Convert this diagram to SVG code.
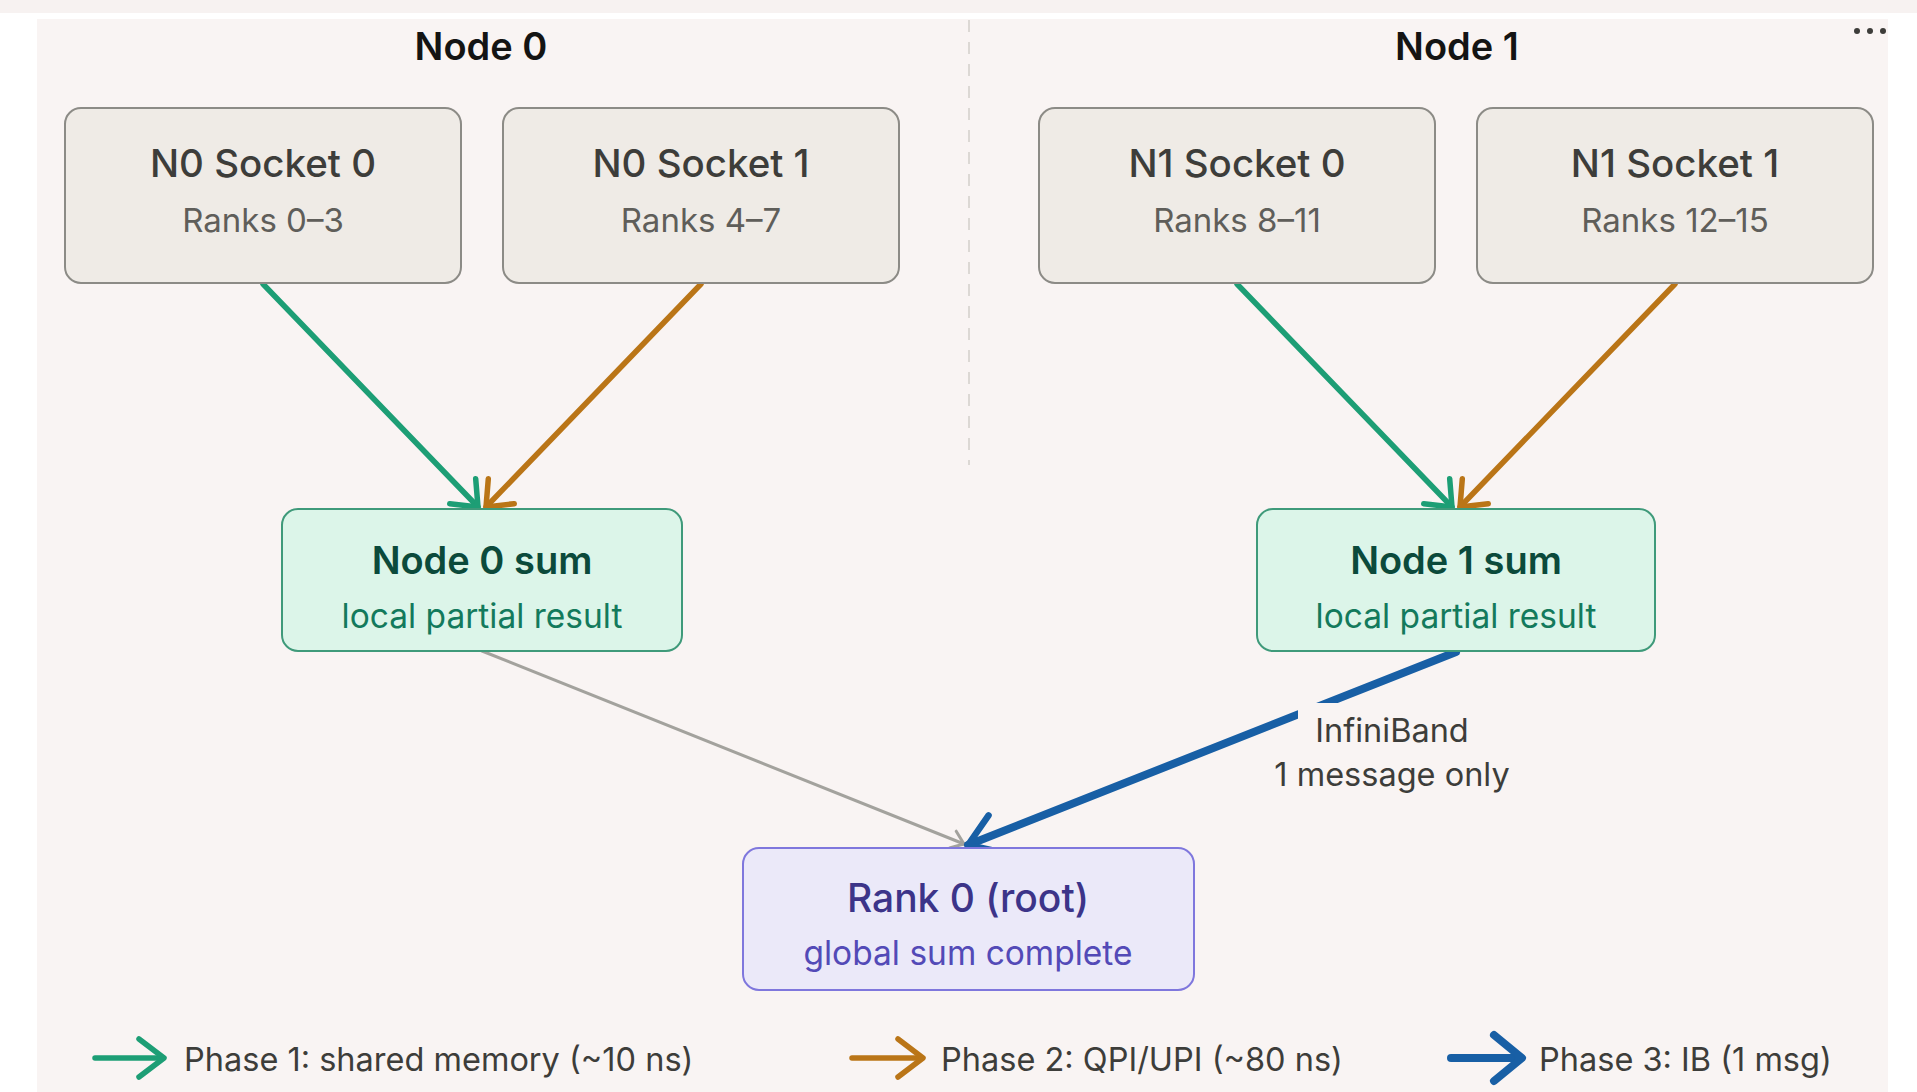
<svg xmlns="http://www.w3.org/2000/svg" width="1917" height="1092" viewBox="0 0 1917 1092">
  <style>
    text { font-family: Inter, "Noto Sans", "Liberation Sans", sans-serif; text-anchor: middle; }
    .group-title { font-size: 38px; font-weight: 600; fill: #141413; }
    .sock rect { fill: #efebe6; stroke: #8c8b86; stroke-width: 2; }
    .sock .t { font-size: 38.5px; font-weight: 500; fill: #3d3d3a; }
    .sock .s { font-size: 33px; font-weight: 400; fill: #5f5e5a; }
    .sum rect { fill: #dcf5e9; stroke: #3f9a7a; stroke-width: 2; }
    .sum .t { font-size: 38px; font-weight: 600; fill: #0b4a3b; }
    .sum .s { font-size: 33.5px; font-weight: 400; fill: #137a5c; }
    .root rect { fill: #ebe9f9; stroke: #7f77dd; stroke-width: 2; }
    .root .t { font-size: 39px; font-weight: 500; fill: #3c3489; }
    .root .s { font-size: 33.5px; font-weight: 400; fill: #534ab7; }
    .lbl { font-size: 32.5px; fill: #3d3d3a; }
    .legend text { font-size: 32.5px; fill: #3d3d3a; text-anchor: start; }
    .conn { fill: none; stroke-linecap: round; stroke-linejoin: round; }
    .green { stroke: #1d9e75; stroke-width: 5.5; }
    .orange { stroke: #ba7517; stroke-width: 5.5; }
    .blue { stroke: #185fa5; stroke-width: 8; }
    .grey { stroke: #a3a29d; stroke-width: 3; }
  </style>
  <defs>
    <marker id="ah-green" markerUnits="userSpaceOnUse" viewBox="-30 -22 34 44" refX="0" refY="0" markerWidth="34" markerHeight="44" orient="auto" overflow="visible">
      <path d="M-22,-18 L0,0 L-22,18" fill="none" stroke="#1d9e75" stroke-width="5.5" stroke-linecap="round" stroke-linejoin="round"/>
    </marker>
    <marker id="ah-orange" markerUnits="userSpaceOnUse" viewBox="-30 -22 34 44" refX="0" refY="0" markerWidth="34" markerHeight="44" orient="auto" overflow="visible">
      <path d="M-22,-18 L0,0 L-22,18" fill="none" stroke="#ba7517" stroke-width="5.5" stroke-linecap="round" stroke-linejoin="round"/>
    </marker>
    <marker id="ah-blue" markerUnits="userSpaceOnUse" viewBox="-36 -26 40 52" refX="0" refY="0" markerWidth="40" markerHeight="52" orient="auto" overflow="visible">
      <path d="M-30,-20 L0,0 L-30,20" fill="none" stroke="#185fa5" stroke-width="6.5" stroke-linecap="round" stroke-linejoin="round"/>
    </marker>
    <marker id="ah-grey" markerUnits="userSpaceOnUse" viewBox="-16 -12 20 24" refX="0" refY="0" markerWidth="20" markerHeight="24" orient="auto" overflow="visible">
      <path d="M-12,-9 L0,0 L-12,9" fill="none" stroke="#a3a29d" stroke-width="3" stroke-linecap="round" stroke-linejoin="round"/>
    </marker>
  </defs>

  <!-- page and canvas -->
  <rect x="0" y="0" width="1917" height="1092" fill="#ffffff"/>
  <rect x="0" y="0" width="1917" height="13" fill="#f7f2f1"/>
  <rect x="37" y="19" width="1851" height="1073" fill="#f9f4f3"/>
  <line x1="969" y1="20" x2="969" y2="465" stroke="#dcd8d4" stroke-width="2" stroke-dasharray="12 10"/>
  <g id="menu" fill="#3d3d3a">
    <circle cx="1857" cy="31" r="3"/>
    <circle cx="1870" cy="31" r="3"/>
    <circle cx="1883" cy="31" r="3"/>
  </g>

  <text class="group-title" x="481" y="60">Node 0</text>
  <text class="group-title" x="1457" y="60">Node 1</text>

  <!-- connectors -->
  <g id="connectors" class="conn">
    <line class="green" x1="263" y1="284" x2="478" y2="507" marker-end="url(#ah-green)"/>
    <line class="orange" x1="701" y1="284" x2="486" y2="507" marker-end="url(#ah-orange)"/>
    <line class="green" x1="1237" y1="284" x2="1452" y2="507" marker-end="url(#ah-green)"/>
    <line class="orange" x1="1675" y1="284" x2="1460" y2="507" marker-end="url(#ah-orange)"/>
    <line class="grey" x1="482" y1="651" x2="964" y2="844" marker-end="url(#ah-grey)"/>
    <line class="blue" x1="1456" y1="652" x2="968" y2="845" marker-end="url(#ah-blue)"/>
    <g id="ib-label">
      <rect x="1298" y="703" width="196" height="98" fill="#f9f4f3"/>
      <text class="lbl" x="1392" y="742">InfiniBand</text>
      <text class="lbl" x="1392" y="786">1 message only</text>
    </g>
  </g>

  <!-- socket nodes -->
  <g id="n0s0" class="sock">
    <rect x="65" y="108" width="396" height="175" rx="16"/>
    <text class="t" x="263" y="177">N0 Socket 0</text>
    <text class="s" x="263" y="232">Ranks 0–3</text>
  </g>
  <g id="n0s1" class="sock">
    <rect x="503" y="108" width="396" height="175" rx="16"/>
    <text class="t" x="701" y="177">N0 Socket 1</text>
    <text class="s" x="701" y="232">Ranks 4–7</text>
  </g>
  <g id="n1s0" class="sock">
    <rect x="1039" y="108" width="396" height="175" rx="16"/>
    <text class="t" x="1237" y="177">N1 Socket 0</text>
    <text class="s" x="1237" y="232">Ranks 8–11</text>
  </g>
  <g id="n1s1" class="sock">
    <rect x="1477" y="108" width="396" height="175" rx="16"/>
    <text class="t" x="1675" y="177">N1 Socket 1</text>
    <text class="s" x="1675" y="232">Ranks 12–15</text>
  </g>

  <!-- node partial sums -->
  <g id="node0sum" class="sum">
    <rect x="282" y="509" width="400" height="142" rx="16"/>
    <text class="t" x="482" y="574">Node 0 sum</text>
    <text class="s" x="482" y="628">local partial result</text>
  </g>
  <g id="node1sum" class="sum">
    <rect x="1257" y="509" width="398" height="142" rx="16"/>
    <text class="t" x="1456" y="574">Node 1 sum</text>
    <text class="s" x="1456" y="628">local partial result</text>
  </g>

  <!-- root -->
  <g id="rank0" class="root">
    <rect x="743" y="848" width="451" height="142" rx="16"/>
    <text class="t" x="968" y="912">Rank 0 (root)</text>
    <text class="s" x="968" y="965">global sum complete</text>
  </g>

  <!-- legend -->
  <g id="legend" class="legend">
    <g class="conn">
      <line class="green" x1="95" y1="1058" x2="163" y2="1058" stroke-width="6"/>
      <path class="green" d="M139,1039 L164,1058 L139,1077" stroke-width="6"/>
      <line class="orange" x1="852" y1="1058" x2="922" y2="1058" stroke-width="6"/>
      <path class="orange" d="M898,1039 L923,1058 L898,1077" stroke-width="6"/>
      <line class="blue" x1="1451" y1="1058" x2="1520" y2="1058" stroke-width="9"/>
      <path class="blue" d="M1494,1035 L1522,1058 L1494,1081" stroke-width="8"/>
    </g>
    <text x="184" y="1071">Phase 1: shared memory (~10 ns)</text>
    <text x="941" y="1071">Phase 2: QPI/UPI (~80 ns)</text>
    <text x="1539" y="1071">Phase 3: IB (1 msg)</text>
  </g>
</svg>
